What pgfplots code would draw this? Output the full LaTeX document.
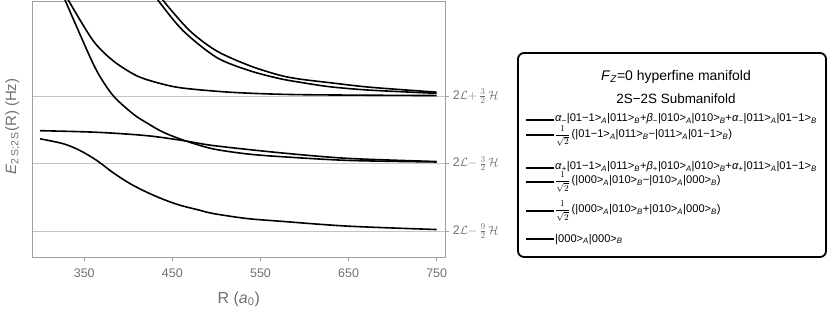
\documentclass[border=0pt]{standalone}
\usepackage{fontspec}
\setmainfont{Liberation Sans}
\usepackage{pgfplots}
\pgfplotsset{compat=1.18}
\definecolor{axgray}{HTML}{A0A0A0}
\definecolor{txtgray}{HTML}{707070}
\definecolor{gridgray}{HTML}{C4C4C4}
\newcommand{\kA}[1]{|#1>\textsubscript{\textit{A}}}
\newcommand{\kB}[1]{|#1>\textsubscript{\textit{B}}}
\newcommand{\fr}{{\fontsize{9.5}{11}\selectfont$\displaystyle\frac{1}{\sqrt{2}}$}}
\begin{document}
\begin{tikzpicture}
\path[use as bounding box] (0,0) rectangle (830bp,311bp);
\begin{axis}[
 at={(32.3bp,54bp)}, anchor=south west, scale only axis, width=413bp, height=256bp,
 xmin=291, xmax=759.8, ymin=-5.65, ymax=5.72,
 axis line style={axgray, line width=0.6pt},
 xtick={350,450,550,650,750}, xtick pos=bottom,
 ytick={-4.5,-1.5,1.5}, ytick pos=right, yticklabel pos=right,
 yticklabels={{2$\mathcal{L}$$-$\,$\frac{9}{2}$\,$\mathcal{H}$},{2$\mathcal{L}$$-$\,$\frac{3}{2}$\,$\mathcal{H}$},{2$\mathcal{L}$$+$\,$\frac{3}{2}$\,$\mathcal{H}$}},
 tick align=outside, major tick length=4bp, tick style={axgray, line width=0.6pt},
 ymajorgrids, grid style={gridgray, line width=0.6pt},
 xticklabel style={font=\fontsize{12.5}{14}\selectfont, text=txtgray, yshift=-4bp},
 yticklabel style={font=\fontsize{12.5}{14}\selectfont, text=txtgray},
 /pgf/number format/assume math mode=true,
 xlabel={R (\textit{a}\textsubscript{0})},
 ylabel={\textit{E}\textsubscript{2\,S;2\,S}(R) (Hz)},
 xlabel style={at={(axis description cs:0.5,-0.165)}, anchor=center, font=\fontsize{16}{18}\selectfont, text=txtgray},
 ylabel style={at={(axis description cs:-0.048,0.51)}, anchor=center, font=\fontsize{15}{17}\selectfont, text=txtgray},
]
% A
\addplot[black, line width=1.6bp, smooth, no marks] coordinates {(299.7,-0.40) (326.2,-0.62) (345.1,-0.92) (364.1,-1.36) (382.9,-1.91) (401.9,-2.39) (420.8,-2.77) (439.7,-3.09) (458.6,-3.35) (477.6,-3.54) (496.4,-3.72) (534.3,-3.94) (572.1,-4.06) (649.3,-4.28) (750,-4.43)};
% B
\addplot[black, line width=1.6bp, smooth, no marks] coordinates {(299.7,-0.04) (364.1,-0.11) (420.8,-0.26) (462.4,-0.48) (496.4,-0.70) (572.1,-1.02) (649.3,-1.27) (750,-1.41)};
% C
\addplot[black, line width=1.6bp, smooth, no marks] coordinates {(325,6.05) (345.1,4.24) (364.1,2.62) (382.9,1.51) (405.6,0.70) (420,0.33) (439.7,-0.11) (466.2,-0.51) (496.4,-0.85) (534.3,-1.07) (572.1,-1.19) (649.3,-1.36) (750,-1.43)};
% D
\addplot[black, line width=1.6bp, smooth, no marks] coordinates {(329,6.0) (333.8,5.63) (360.2,3.95) (382.9,3.06) (409.5,2.40) (435.9,2.06) (462.4,1.85) (519.1,1.66) (595,1.56) (750,1.52)};
% E
\addplot[black, line width=1.6bp, smooth, no marks] coordinates {(430,6.0) (435.9,5.64) (462.4,4.39) (500.3,3.21) (538.1,2.62) (572.1,2.27) (595,2.11) (629,1.91) (674.5,1.76) (750,1.62)};
% F
\addplot[black, line width=1.6bp, smooth, no marks] coordinates {(436,6.0) (441.6,5.64) (470,4.39) (500.3,3.50) (538.1,2.84) (572.1,2.42) (595,2.25) (629,2.09) (674.5,1.89) (750,1.67)};
\end{axis}
% legend
\draw[black, line width=1.8bp, rounded corners=6bp] (518bp,54bp) rectangle (826bp,258bp);
\node[font=\fontsize{14}{16}\selectfont] at (676bp,234.5bp) {\textit{F}\textsubscript{\textit{Z}}=0 hyperfine manifold};
\node[font=\fontsize{13.5}{15}\selectfont] at (676bp,212bp) {2S−2S Submanifold};
\draw[black, line width=2bp] (526bp,191bp) -- (554bp,191bp);
\draw[black, line width=2bp] (526bp,175.5bp) -- (554bp,175.5bp);
\draw[black, line width=2bp] (526bp,143.3bp) -- (554bp,143.3bp);
\draw[black, line width=2bp] (526bp,129.3bp) -- (554bp,129.3bp);
\draw[black, line width=2bp] (526bp,100.3bp) -- (554bp,100.3bp);
\draw[black, line width=2bp] (526bp,71.7bp) -- (554bp,71.7bp);
\begin{scope}[every node/.style={anchor=west, inner sep=0pt, font=\fontsize{11.2}{13}\selectfont}]
\node at (555bp,192bp) {\textit{α}\textsubscript{−}\kA{01−1}\kB{011}+\textit{β}\textsubscript{−}\kA{010}\kB{010}+\textit{α}\textsubscript{−}\kA{011}\kB{01−1}};
\node at (555bp,175bp) {\fr\,(\kA{01−1}\kB{011}−\kA{011}\kB{01−1})};
\node at (555bp,144.3bp) {\textit{α}\textsubscript{+}\kA{01−1}\kB{011}+\textit{β}\textsubscript{+}\kA{010}\kB{010}+\textit{α}\textsubscript{+}\kA{011}\kB{01−1}};
\node at (555bp,128.8bp) {\fr\,(\kA{000}\kB{010}−\kA{010}\kB{000})};
\node at (555bp,99.8bp) {\fr\,(\kA{000}\kB{010}+\kA{010}\kB{000})};
\node at (555bp,71.7bp) {\kA{000}\kB{000}};
\end{scope}
\end{tikzpicture}
\end{document}
